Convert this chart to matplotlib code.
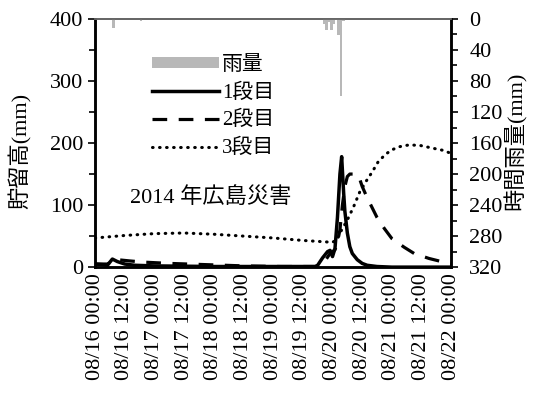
import matplotlib
matplotlib.use('Agg')
import matplotlib.pyplot as plt
from matplotlib.ticker import MultipleLocator
from matplotlib.patches import Patch
from matplotlib.lines import Line2D

plt.rcParams['font.family'] = ['Liberation Serif', 'Noto Sans CJK JP']
plt.rcParams['hatch.color'] = '#9a9a9a'

# hours counted from 08/16 00:00
tick_hours = list(range(0, 145, 12))
tick_labels = ['08/16 00:00', '08/16 12:00', '08/17 00:00', '08/17 12:00',
               '08/18 00:00', '08/18 12:00', '08/19 00:00', '08/19 12:00',
               '08/20 00:00', '08/20 12:00', '08/21 00:00', '08/21 12:00',
               '08/22 00:00']

# hourly rainfall (mm), bar starts at the hour
rain_hours = [7, 18, 92, 93, 94, 95, 96, 97, 98, 99, 100]
rain_mm = [12, 3, 6, 14, 4, 14, 6, 2, 21, 100, 3]

# storage height (mm)
s1_hours = [0, 3, 5, 6, 7, 9, 12, 16, 24, 48, 80, 89, 90, 92, 94, 95, 96,
            97, 98, 99, 99.7, 100.5, 101, 102, 103, 104, 106, 108, 110, 114,
            120, 144]
s1_mm = [5, 4, 3, 8, 13, 9, 5, 3, 2, 1, 1, 1, 3, 15, 25, 27, 17,
         30, 80, 150, 178, 120, 90, 55, 33, 22, 12, 6, 3, 1,
         0, 0]

s2_hours = [0, 5, 7, 9, 14, 20, 30, 45, 60, 75, 90, 93, 95, 97, 98, 99, 100,
            101, 102, 103, 105, 106.5, 108, 110, 114, 117, 120, 125, 129,
            135, 140, 144]
s2_mm = [5, 5, 10, 12, 10, 8, 6, 4, 2, 1, 1, 10, 22, 28, 40, 60, 100,
         130, 146, 150, 150, 148, 130, 112, 80, 62, 46, 32, 22,
         14, 9, 5]

s3_hours = [0, 12, 24, 36, 48, 60, 72, 84, 92, 96, 98, 99, 102, 104.5, 107,
            110, 112, 114.5, 117.5, 120, 123, 127, 131.5, 135, 138.5, 141, 144]
s3_mm = [47, 51, 54, 55, 53, 50, 47, 43, 41, 40, 45, 55, 76, 97, 121,
         141, 153, 170, 182, 189, 194, 197, 196, 193, 190, 188, 183]

dash2 = (0, (4.6, 3.6))
dot3 = (0, (0.2, 2.1))

fig = plt.figure(figsize=(5.34, 3.94), dpi=100)
ax = fig.add_axes([0.178, 0.322, 0.667, 0.630])
ax2 = ax.twinx()

ax.plot(s1_hours, s1_mm, color='black', lw=2.5, solid_joinstyle='round')
ax.plot(s2_hours, s2_mm, color='black', lw=2.3, linestyle=dash2)
ax.plot(s3_hours, s3_mm, color='black', lw=2.2, linestyle=dot3,
        dash_capstyle='round')

ax2.bar(rain_hours, rain_mm, width=1, align='edge', color='#b8b8b8',
        edgecolor='#b8b8b8', linewidth=0)

ax.set_xlim(0, 144)
ax.set_ylim(0, 400)
ax2.set_ylim(320, 0)

ax.set_xticks(tick_hours)
ax.set_xticklabels(tick_labels, rotation=90)
ax.tick_params(axis='x', length=0, pad=4, labelsize=16)
ax.yaxis.set_major_locator(MultipleLocator(100))
ax.yaxis.set_minor_locator(MultipleLocator(50))
ax.tick_params(axis='y', which='major', direction='out', length=5, width=1.2, labelsize=16)
ax.tick_params(axis='y', which='minor', direction='out', length=4, width=1.2)

ax2.yaxis.set_major_locator(MultipleLocator(40))
ax2.yaxis.set_minor_locator(MultipleLocator(20))
ax2.tick_params(axis='y', which='major', direction='out', length=5, width=1.2, labelsize=16, pad=8)
ax2.tick_params(axis='y', which='minor', direction='out', length=4, width=1.2)

for a in (ax, ax2):
    for s in ['left', 'right', 'bottom']:
        a.spines[s].set_linewidth(1.8)
    a.spines['top'].set_color('#666666')
    a.spines['top'].set_linewidth(1.3)

ax.set_ylabel('貯留高(mm)', fontsize=16)
ax.yaxis.set_label_coords(-0.177, 0.47)
ax2.set_ylabel('時間雨量(mm)', fontsize=16, rotation=90)
ax2.yaxis.set_label_coords(1.146, 0.51)

handles = [Patch(facecolor='#b8b8b8', edgecolor='#b8b8b8', hatch='++', linewidth=0),
           Line2D([], [], color='black', lw=2.5),
           Line2D([], [], color='black', lw=2.3, linestyle=dash2),
           Line2D([], [], color='black', lw=2.2, linestyle=dot3,
                  dash_capstyle='round')]
labels = ['雨量', '1段目', '2段目', '3段目']
leg = ax2.legend(handles, labels, loc='upper left', bbox_to_anchor=(0.16, 0.85),
                 frameon=False, fontsize=15, handlelength=3.2, handleheight=0.4,
                 handletextpad=0.15, labelspacing=0.4, borderaxespad=0,
                 borderpad=0)

ax.text(0.098, 0.282, '2014 年広島災害', transform=ax.transAxes, fontsize=16,
        va='center', ha='left')

plt.savefig('out.png', dpi=100)
